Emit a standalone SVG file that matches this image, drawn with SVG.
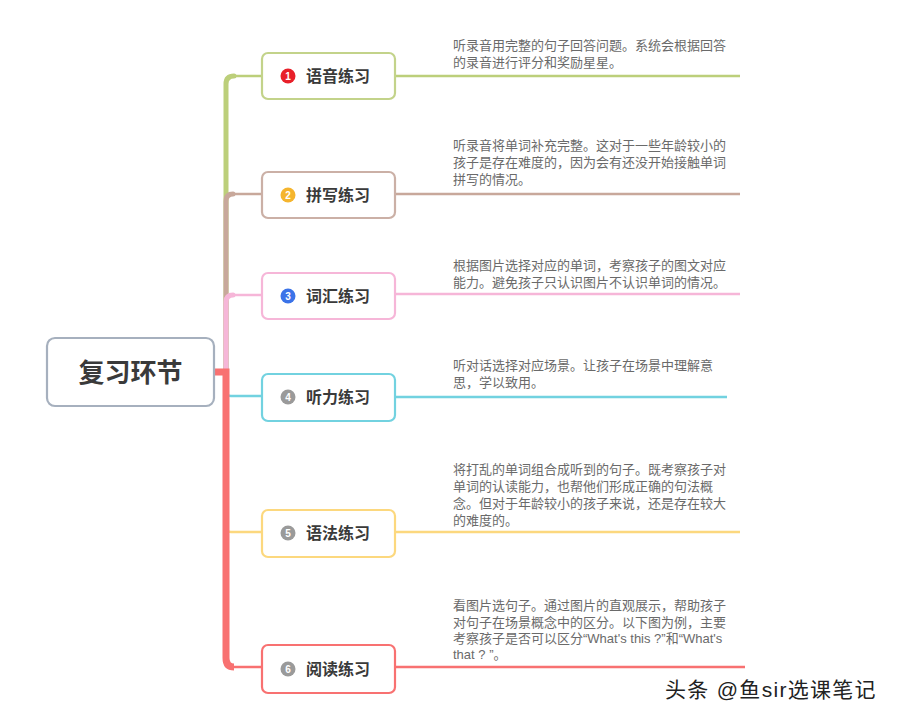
<svg xmlns="http://www.w3.org/2000/svg" width="901" height="720" viewBox="0 0 901 720">
<style>
.t{font-family:"Liberation Sans","Noto Sans CJK SC",sans-serif;font-size:13px;fill:#6a6a6a}
.lbl{font-family:"Liberation Sans","Noto Sans CJK SC",sans-serif;font-size:16px;font-weight:bold;fill:#3a3a3a}
.num{font-family:"Liberation Sans",sans-serif;font-size:10px;font-weight:bold;fill:#fff;text-anchor:middle}
.node{fill:#fff;stroke-width:2.2}
.v{fill:none;stroke-width:5;stroke-linecap:round}
.h{fill:none;stroke-width:2.5}
</style>
<rect width="901" height="720" fill="#fff"/>
<g id="connectors">
<path class="v" d="M214 372H222Q226 372 226 368V84Q226 76 234 76" stroke="#bccf7a"/>
<path class="h" d="M232 76H262" stroke="#bccf7a"/>
<path class="v" d="M226 372V201Q226 194 233 194" stroke="#c8a89b"/>
<path class="h" d="M231 194H262" stroke="#c8a89b"/>
<path class="v" d="M226 372V302Q226 295 233 295" stroke="#f6b6d8"/>
<path class="h" d="M231 295H262" stroke="#f6b6d8"/>
<path class="h" d="M226 372V392Q226 396 231 396H262" stroke="#72d2e0"/>
<path class="h" d="M226 372V527Q226 532 231 532H262" stroke="#fcd87e"/>
<path fill="none" stroke="#f87171" stroke-width="7" d="M214 372H226V658Q226 667 234 667"/>
<path class="h" d="M230 667H262" stroke="#f87171"/>
<path class="h" d="M395 76H740" stroke="#bccf7a"/>
<path class="h" d="M395 194H740" stroke="#c8a89b"/>
<path class="h" d="M395 294H740" stroke="#f6b6d8"/>
<path class="h" d="M395 397H727" stroke="#72d2e0"/>
<path class="h" d="M395 532H740" stroke="#fcd87e"/>
<path class="h" d="M395 667H745" stroke="#f87171"/>
</g>
<g id="root">
<rect x="47" y="338" width="167" height="68" rx="8" fill="#fff" stroke="#a6b0be" stroke-width="2.2"/>
<text x="130.5" y="382" text-anchor="middle" font-family="Liberation Sans,Noto Sans CJK SC,sans-serif" font-size="26" font-weight="bold" fill="#3a3a3a">复习环节</text>
</g>
<g id="n1">
<rect class="node" x="262" y="53" width="133" height="46" rx="6" stroke="#c3d38a"/>
<circle cx="288" cy="76" r="7.5" fill="#e8202a"/><text class="num" x="288" y="79.5">1</text>
<text class="lbl" x="306" y="82">语音练习</text>
</g>
<g id="n2">
<rect class="node" x="262" y="172" width="133" height="46" rx="6" stroke="#cbb0a6"/>
<circle cx="288" cy="195" r="7.5" fill="#f5b52e"/><text class="num" x="288" y="198.5">2</text>
<text class="lbl" x="306" y="201">拼写练习</text>
</g>
<g id="n3">
<rect class="node" x="262" y="273" width="133" height="46" rx="6" stroke="#f6b6d8"/>
<circle cx="288" cy="296" r="7.5" fill="#3b73e8"/><text class="num" x="288" y="299.5">3</text>
<text class="lbl" x="306" y="302">词汇练习</text>
</g>
<g id="n4">
<rect class="node" x="262" y="374" width="133" height="47" rx="6" stroke="#72d2e0"/>
<circle cx="288" cy="397" r="7.5" fill="#9a9a9a"/><text class="num" x="288" y="400.5">4</text>
<text class="lbl" x="306" y="403">听力练习</text>
</g>
<g id="n5">
<rect class="node" x="262" y="510" width="133" height="47" rx="6" stroke="#fcd87e"/>
<circle cx="288" cy="533" r="7.5" fill="#9a9a9a"/><text class="num" x="288" y="536.5">5</text>
<text class="lbl" x="306" y="539">语法练习</text>
</g>
<g id="n6">
<rect class="node" x="262" y="645" width="133" height="48" rx="6" stroke="#f87171"/>
<circle cx="288" cy="669" r="7.5" fill="#9a9a9a"/><text class="num" x="288" y="672.5">6</text>
<text class="lbl" x="306" y="675">阅读练习</text>
</g>
<g id="notes">
<text class="t" x="453" y="50">听录音用完整的句子回答问题。系统会根据回答</text>
<text class="t" x="453" y="67">的录音进行评分和奖励星星。</text>
<text class="t" x="453" y="150">听录音将单词补充完整。这对于一些年龄较小的</text>
<text class="t" x="453" y="167">孩子是存在难度的，因为会有还没开始接触单词</text>
<text class="t" x="453" y="184">拼写的情况。</text>
<text class="t" x="453" y="270">根据图片选择对应的单词，考察孩子的图文对应</text>
<text class="t" x="453" y="287">能力。避免孩子只认识图片不认识单词的情况。</text>
<text class="t" x="453" y="370">听对话选择对应场景。让孩子在场景中理解意</text>
<text class="t" x="453" y="387">思，学以致用。</text>
<text class="t" x="453" y="474">将打乱的单词组合成听到的句子。既考察孩子对</text>
<text class="t" x="453" y="491">单词的认读能力，也帮他们形成正确的句法概</text>
<text class="t" x="453" y="508">念。但对于年龄较小的孩子来说，还是存在较大</text>
<text class="t" x="453" y="525">的难度的。</text>
<text class="t" x="453" y="610">看图片选句子。通过图片的直观展示，帮助孩子</text>
<text class="t" x="453" y="627">对句子在场景概念中的区分。以下图为例，主要</text>
<text class="t" x="453" y="643">考察孩子是否可以区分“What's this ?”和“What's</text>
<text class="t" x="453" y="659">that ? ”。</text>
</g>
<text x="665" y="697" font-family="Liberation Sans,Noto Sans CJK SC,sans-serif" font-size="21" letter-spacing="1.3" fill="#222">头条 @鱼sir选课笔记</text>
</svg>
